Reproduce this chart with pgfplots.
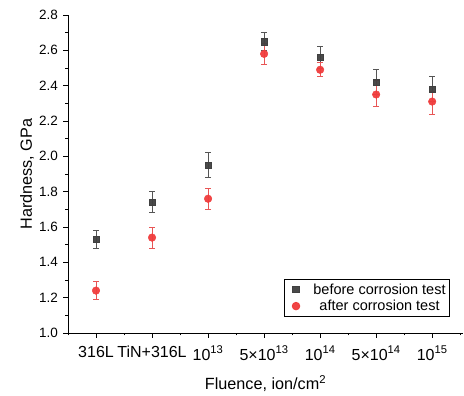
\documentclass[border=0pt]{standalone}
\usepackage{pgfplots}
\pgfplotsset{compat=1.18}
\usepackage{pgfplotstable}
\usepackage{fontspec}
\setmainfont{Liberation Sans}
\definecolor{bcol}{HTML}{404040}
\definecolor{berr}{HTML}{555555}
\definecolor{acol}{HTML}{F03C3C}
\definecolor{aerr}{HTML}{E85555}
\pgfplotstableread{
x y ep em
1 1.53 0.05 0.05
2 1.74 0.06 0.06
3 1.95 0.07 0.07
4 2.65 0.05 0.05
5 2.56 0.06 0.06
6 2.42 0.07 0.07
7 2.38 0.075 0.07
}\before
\pgfplotstableread{
x y ep em
1 1.24 0.05 0.05
2 1.54 0.06 0.06
3 1.76 0.06 0.06
4 2.58 0.06 0.06
5 2.49 0.04 0.04
6 2.35 0.08 0.07
7 2.31 0.06 0.07
}\after
\begin{document}
\begin{tikzpicture}
\begin{axis}[
  scale only axis, width=395pt, height=318pt,
  xmin=0.5, xmax=7.55, ymin=1.0, ymax=2.8,
  axis x line*=bottom, axis y line*=left,
  axis line style={line width=0.9pt, -},
  every tick/.style={black, line width=0.8pt},
  tick align=outside, major tick length=4.5pt, minor tick length=2.5pt,
  xtick={1,2,3,4,5,6,7},
  xticklabels={316L, TiN+316L, 10\textsuperscript{13}, 5×10\textsuperscript{13}, 10\textsuperscript{14}, 5×10\textsuperscript{14}, 10\textsuperscript{15}},
  minor xtick={0.5,1.5,2.5,3.5,4.5,5.5,6.5,7.5},
  ytick={1.0,1.2,1.4,1.6,1.8,2.0,2.2,2.4,2.6,2.8},
  minor ytick={1.1,1.3,1.5,1.7,1.9,2.1,2.3,2.5,2.7},
  /pgf/number format/assume math mode=true,
  yticklabel style={/pgf/number format/fixed, /pgf/number format/fixed zerofill, /pgf/number format/precision=1, xshift=-2pt, font=\fontsize{13.5}{15}\selectfont},
  xticklabel style={yshift=-5pt, font=\fontsize{16}{18}\selectfont, inner xsep=0pt},
  xlabel={Fluence, ion/cm\textsuperscript{2}},
  ylabel={Hardness, GPa},
  xlabel style={font=\fontsize{16.2}{18}\selectfont, at={(axis description cs:0.5,-0.16)}, anchor=center},
  ylabel style={font=\fontsize{16.2}{18}\selectfont, at={(axis description cs:-0.104,0.5)}, anchor=center},
  legend style={at={(1,0)}, anchor=south east, xshift=-13pt, yshift=16pt,
    draw=black, line width=0.8pt, font=\fontsize{14.5}{16}\selectfont,
    inner xsep=2pt, inner ysep=2.5pt, row sep=0.5pt},
  legend cell align=center,
  legend image code/.code={%
    \path (-9pt,0pt) (15pt,0pt);
    \draw[mark repeat=2, mark phase=2] plot coordinates {(-1pt,0pt) (0pt,0pt) (1pt,0pt)};},
  clip=false,
]
\addplot[only marks, mark=square*, mark size=3.3pt, color=bcol,
  mark options={fill=bcol, draw=bcol, fill opacity=0.95},
  error bars/.cd, y dir=both, y explicit,
  error bar style={color=berr, line width=0.8pt},
  error mark options={rotate=90, mark size=3pt, color=berr, line width=0.8pt}]
  table[x=x, y=y, y error plus=ep, y error minus=em]{\before};
\addlegendentry{before corrosion test}
\addplot[only marks, mark=*, mark size=3.8pt, color=acol,
  mark options={fill=acol, draw=acol, fill opacity=0.95},
  error bars/.cd, y dir=both, y explicit,
  error bar style={color=aerr, line width=0.8pt},
  error mark options={rotate=90, mark size=3pt, color=aerr, line width=0.8pt}]
  table[x=x, y=y, y error plus=ep, y error minus=em]{\after};
\addlegendentry{after corrosion test}
\end{axis}
\path (current axis.south west) ++(-68pt,-61pt) rectangle ++(464pt,394pt);
\end{tikzpicture}
\end{document}
